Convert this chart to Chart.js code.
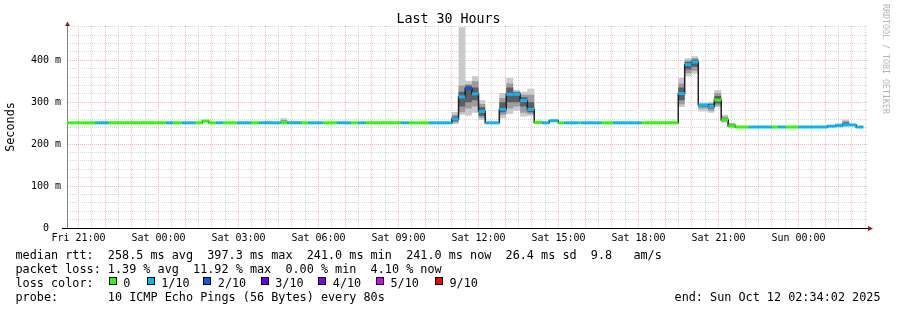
<!DOCTYPE html>
<html><head><meta charset="utf-8">
<script src="https://cdn.jsdelivr.net/npm/chart.js@4/dist/chart.umd.min.js"></script>
<style>
html,body{margin:0;padding:0;background:#fff;}
#wrap{position:relative;width:897px;height:310px;overflow:hidden;font-family:"DejaVu Sans Mono",monospace;color:#000;background:#fff;}
canvas{position:absolute;left:0;top:0;}
.t{position:absolute;white-space:pre;font-size:11.81px;line-height:14px;}
#title{position:absolute;left:0;top:11px;width:897px;text-align:center;font-size:13.3px;line-height:16px;white-space:pre;}
#wm{position:absolute;left:881px;top:4px;writing-mode:vertical-rl;font-size:8.3px;line-height:10px;color:#b4b4b4;white-space:pre;}
.sq{position:absolute;width:8px;height:8px;box-sizing:border-box;border:1px solid #000;}
</style></head><body>
<div id="wrap">
<canvas id="c" width="897" height="310"></canvas>
<div id="title">Last 30 Hours</div>
<div id="wm">RRDTOOL / TOBI OETIKER</div>
<div id="legend"></div>
</div>
<script>
// ---- axis labels ----
const xTickLabels = ['Fri 21:00','Sat 00:00','Sat 03:00','Sat 06:00','Sat 09:00','Sat 12:00','Sat 15:00','Sat 18:00','Sat 21:00','Sun 00:00'];
const yTickLabels = ['0  ','100 m','200 m','300 m','400 m'];
const lossLabels = ['0','1/10','2/10','3/10','4/10','5/10','9/10'];
const lossColors = ['#26ff00','#00b8ff','#0059ff','#5e00ff','#7e00ff','#dd00ff','#ff0000'];

// ---- data: hours after Fri 21:00, median rtt in ms, loss level index ----
const xMin = -0.4328, xMax = 29.5672;
const segStart = [-0.5,0.62,1.12,3.29,3.54,3.89,4.37,4.64,4.89,5.16,
  5.41,5.95,6.47,6.76,7.00,7.26,7.57,7.83,8.35,8.60,
  9.16,9.70,10.22,10.50,10.75,12.10,12.37,13.14,14.00,14.25,
  14.50,14.75,15.00,15.25,15.78,16.04,16.30,16.56,16.83,17.09,
  17.39,17.65,17.99,18.21,18.77,18.85,19.60,20.05,21.10,22.49,
  22.73,22.99,23.24,23.61,23.84,24.10,24.36,24.63,25.15,26.00,
  26.24,26.50,27.01,28.08,28.38,28.64,28.90,29.16];
const segEnd = 29.43;
const median = [251,251,251,251,251,251,251,255,251,251,
  251,251,251,251,251,251,251,251,251,251,
  251,251,251,251,251,251,251,251,260,313,
  333,320,278,251,283,319,319,304,283,252,
  251,256,251,251,251,251,251,251,251,321,
  390,396,294,290,305,258,243.5,241,241,241,
  241,241,241,243,244,246,246,241];
const loss = [0,1,0,1,0,1,0,0,0,1,
  0,1,0,1,1,1,0,1,0,1,
  0,1,0,1,0,1,0,1,1,1,
  2,1,1,1,1,1,1,1,1,0,
  1,1,0,1,0,1,0,1,0,1,
  1,1,1,1,0,0,0,0,1,0,
  1,0,1,1,1,1,1,1];
const _ = null;
const smokeOuterLo = [_,_,_,_,_,_,_,_,_,_, _,_,_,_,251,_,250,251,_,_, _,_,_,_,_,_,_,_,248,270,
  268,275,258,_,262,272,280,266,268,_, _,_,_,_,_,_,_,_,_,289, 362,368,278,275,288,251,240,_,_,_, _,_,_,241,241,242,_,_];
const smokeOuterHi = [_,_,_,_,_,_,_,_,_,_, _,_,_,_,256,_,262,255,_,_, _,_,_,_,_,_,_,_,277,479,
  351,362,305,_,322,358,330,325,332,_, _,_,_,_,_,_,_,_,_,358, 405,410,295,301,329,270,251,_,_,_, _,_,_,246,250,259,_,_];
const smokeMidLo = [_,_,_,_,_,_,_,_,_,_, _,_,_,_,_,_,251,_,_,_, _,_,_,_,_,_,_,_,252,276,
  285,290,263,_,270,285,290,275,272,_, _,_,_,_,_,_,_,_,_,295, 370,375,285,280,292,254,241,_,_,_, _,_,_,_,242,244,_,_];
const smokeMidHi = [_,_,_,_,_,_,_,_,_,_, _,_,_,_,_,_,258,_,_,_, _,_,_,_,_,_,_,_,270,340,
  343,350,296,_,310,345,326,318,318,_, _,_,_,_,_,_,_,_,_,345, 400,405,295,298,322,266,249,_,_,_, _,_,_,_,248,255,_,_];
const smokeInnerLo = [_,_,_,_,_,_,_,_,_,_, _,_,_,_,_,_,_,_,_,_, _,_,_,_,_,_,_,_,255,290,
  300,305,268,_,276,300,300,290,276,_, _,_,_,_,_,_,_,_,_,305, 378,385,290,285,297,256,242,_,_,_, _,_,_,_,_,245,_,_];
const smokeInnerHi = [_,_,_,_,_,_,_,_,_,_, _,_,_,_,_,_,_,_,_,_, _,_,_,_,_,_,_,_,266,325,
  340,335,288,_,300,335,324,312,300,_, _,_,_,_,_,_,_,_,_,335, 396,402,295,295,315,262,247,_,_,_, _,_,_,_,_,252,_,_];

// ---- legend text ----
const FONT = 'DejaVu Sans Mono';
const lg = document.getElementById('legend');
function put(txt, left, top, cls){ const d=document.createElement('div'); d.className=cls||'t'; d.textContent=txt; d.style.left=left+'px'; d.style.top=top+'px'; lg.appendChild(d); return d; }
const r1=247.5, r2=261.8, r3=276.1, r4=290.4;
put('median rtt:  258.5 ms avg  397.3 ms max  241.0 ms min  241.0 ms now  26.4 ms sd  9.8   am/s',15.5,r1);
put('packet loss: 1.39 % avg  11.92 % max  0.00 % min  4.10 % now',15.5,r2);
put('loss color:',15.5,r3);
const sqX=[108.7,146.7,203.3,260.7,318.3,376,435];
lossLabels.forEach((l,i)=>{ const s=document.createElement('div'); s.className='sq'; s.style.left=sqX[i]+'px'; s.style.top='277px'; s.style.background=lossColors[i]; lg.appendChild(s); put(l, sqX[i]+14.5, r3); });
put('probe:       10 ICMP Echo Pings (56 Bytes) every 80s',15.5,r4);
const endEl = put('end: Sun Oct 12 02:34:02 2025',0,r4); endEl.style.left=''; endEl.style.right=(897-880.5)+'px';

// ---- chart ----
function stepData(arr){
  const d = segStart.map((x,i)=>({x, y: arr[i] ?? median[i]}));
  const n = segStart.length-1;
  d.push({x: segEnd, y: arr[n] ?? median[n]});
  return d;
}
const bandData = [];
segStart.forEach((s,i)=>{ const e = i+1<segStart.length ? segStart[i+1] : segEnd; bandData.push({x:s,y:median[i]},{x:e,y:median[i]},{x:e,y:null}); });

const datasets = [];
[[smokeOuterLo,smokeOuterHi,'#cacaca',30],[smokeMidLo,smokeMidHi,'#9c9c9c',20],[smokeInnerLo,smokeInnerHi,'#5e5e5e',10]].forEach(([lo,hi,col,ord])=>{
  datasets.push({data:stepData(lo),stepped:'before',borderColor:'rgba(0,0,0,0)',borderWidth:0,pointRadius:0,fill:false,order:ord});
  datasets.push({data:stepData(hi),stepped:'before',borderColor:'rgba(0,0,0,0)',borderWidth:0,pointRadius:0,fill:'-1',backgroundColor:col,order:ord});
});
datasets.push({data:stepData(median),stepped:'before',borderColor:'#202020',borderWidth:1.5,pointRadius:0,fill:false,order:5});
datasets.push({data:bandData,borderWidth:3,pointRadius:0,fill:false,spanGaps:false,order:1,borderColor:lossColors[0],
  segment:{borderColor:c=>lossColors[loss[Math.floor(c.p0DataIndex/3)]]}});

const MAJOR='rgba(255,40,40,0.34)', MINOR='#d6d6d6';
const decor = {
  id:'decor',
  afterDraw(chart){
    const {ctx, chartArea:a} = chart;
    ctx.save();
    ctx.strokeStyle='#000'; ctx.lineWidth=1;
    ctx.beginPath(); ctx.moveTo(a.left-5, a.bottom+0.5); ctx.lineTo(a.right+1, a.bottom+0.5); ctx.stroke();
    ctx.fillStyle='#8b1c1c';
    ctx.beginPath(); ctx.moveTo(a.left-2, a.top); ctx.lineTo(a.left+3, a.top); ctx.lineTo(a.left+0.5, a.top-4.5); ctx.closePath(); ctx.fill();
    ctx.beginPath(); ctx.moveTo(a.right+1, a.bottom-2); ctx.lineTo(a.right+1, a.bottom+3); ctx.lineTo(a.right+6, a.bottom+0.5); ctx.closePath(); ctx.fill();
    ctx.restore();
  }
};

new Chart(document.getElementById('c'), {
  type:'line',
  data:{datasets},
  plugins:[decor],
  options:{
    responsive:false, animation:false, devicePixelRatio:1, events:[],
    layout:{padding:{left:0,right:30,top:26,bottom:0}},
    plugins:{legend:{display:false},tooltip:{enabled:false},title:{display:false}},
    elements:{line:{tension:0}},
    scales:{
      x:{type:'linear',min:xMin,max:xMax,
        afterFit(s){s.height=82;},
        afterBuildTicks(s){const t=[];for(let v=Math.ceil(xMin*2)/2; v<=xMax; v+=0.5) t.push({value:v}); s.ticks=t;},
        grid:{color:c=>Number.isInteger(c.tick.value)?MAJOR:MINOR,lineWidth:1,drawTicks:false},
        border:{display:true,color:'#000',width:1,dash:[1,1]},
        ticks:{autoSkip:false,maxRotation:0,minRotation:0,padding:4,color:'#000',font:{family:FONT,size:10},
          callback:v=>(Number.isInteger(v)&&v%3===0)?xTickLabels[v/3]:''}
      },
      y:{type:'linear',min:0,max:482,
        afterFit(s){s.width=67;},
        afterBuildTicks(s){const t=[];for(let v=0; v<=480; v+=20) t.push({value:v}); s.ticks=t;},
        grid:{color:c=>c.tick.value===0?'rgba(0,0,0,0)':(c.tick.value%100===0?MAJOR:MINOR),lineWidth:1,drawTicks:false},
        border:{display:true,color:'#808080',width:1,dash:[1,1]},
        ticks:{autoSkip:false,padding:6,color:'#000',font:{family:FONT,size:10},
          callback:v=>v%100===0?yTickLabels[v/100]:''},
        title:{display:true,text:'Seconds',color:'#000',font:{family:FONT,size:11.8},padding:{top:4,bottom:0}}
      }
    }
  }
});
</script>
</body></html>
